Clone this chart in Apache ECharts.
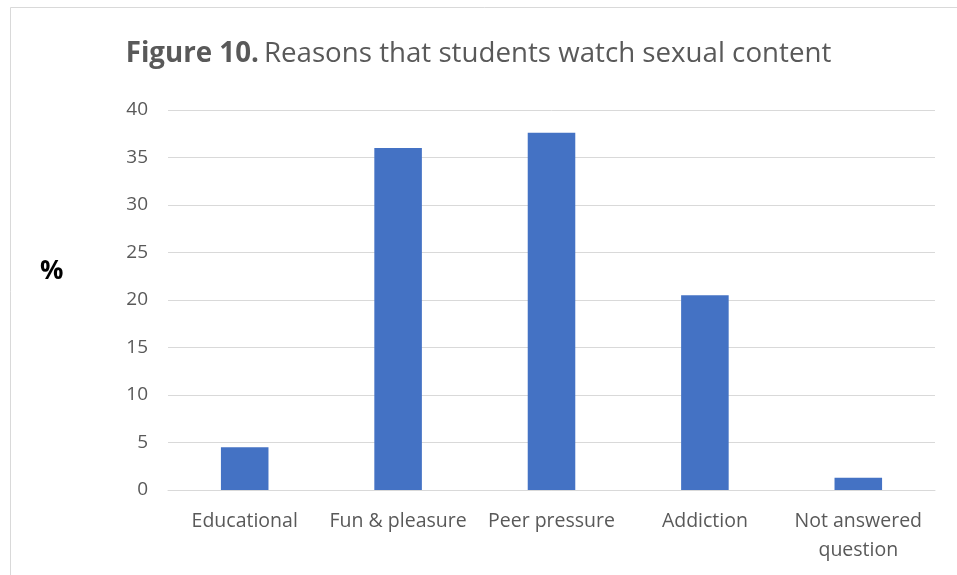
<!DOCTYPE html>
<html>
<head>
<meta charset="utf-8">
<script src="https://cdn.jsdelivr.net/npm/echarts@6/dist/echarts.min.js"></script>
<style>
  html, body { margin: 0; padding: 0; background: #fff; }
  #chart { width: 957px; height: 575px; }
</style>
</head>
<body>
<div id="chart"></div>
<script>
const categories = ["Educational", "Fun & pleasure", "Peer pressure", "Addiction", "Not answered\nquestion"];
const percentValues = [4.5, 36, 37.6, 20.5, 1.3];
const yTicks = [0, 5, 10, 15, 20, 25, 30, 35, 40];

const TEXT_GREY = "#595959";
const GRID_GREY = "#d9d9d9";
const FONT = "Open Sans";

const chart = echarts.init(document.getElementById("chart"), null, { renderer: "canvas" });

const option = {
  backgroundColor: "#fff",
  animation: false,
  title: {
    text: "{b|Figure 10.} {r|Reasons that students watch sexual content}",
    left: "center",
    top: 35,
    textStyle: {
      fontWeight: "normal",
      rich: {
        b: { fontFamily: FONT, fontSize: 27.7, fontWeight: "bold", color: TEXT_GREY },
        r: { fontFamily: FONT, fontSize: 27.7, fontWeight: "normal", color: TEXT_GREY },
      },
    },
  },
  graphic: [
    {
      type: "rect",
      shape: { x: 10.5, y: 7.5, width: 960, height: 580 },
      style: { fill: "none", stroke: GRID_GREY, lineWidth: 1 },
      silent: true,
    },
    {
      type: "text",
      left: 40,
      top: 259,
      style: { text: "%", fontFamily: FONT, fontSize: 26, fontWeight: "bold", fill: "#000" },
    },
  ],
  grid: { left: 168, right: 22, top: 110, bottom: 85, containLabel: false },
  xAxis: {
    type: "category",
    data: categories,
    axisLine: { show: true, lineStyle: { color: GRID_GREY, width: 1 } },
    axisTick: { show: false },
    axisLabel: {
      color: TEXT_GREY,
      fontFamily: FONT,
      fontSize: 19.5,
      margin: 17,
      interval: 0,
      lineHeight: 29,
    },
  },
  yAxis: {
    type: "value",
    min: yTicks[0],
    max: yTicks[yTicks.length - 1],
    interval: 5,
    axisLine: { show: false },
    axisTick: { show: false },
    splitLine: { lineStyle: { color: GRID_GREY, width: 1 } },
    axisLabel: {
      color: TEXT_GREY,
      fontFamily: FONT,
      fontSize: 19,
      margin: 20,
    },
  },
  series: [
    {
      type: "bar",
      data: percentValues,
      barWidth: "31%",
      itemStyle: { color: "#4472c4" },
    },
  ],
};

chart.setOption(option);
</script>
</body>
</html>
